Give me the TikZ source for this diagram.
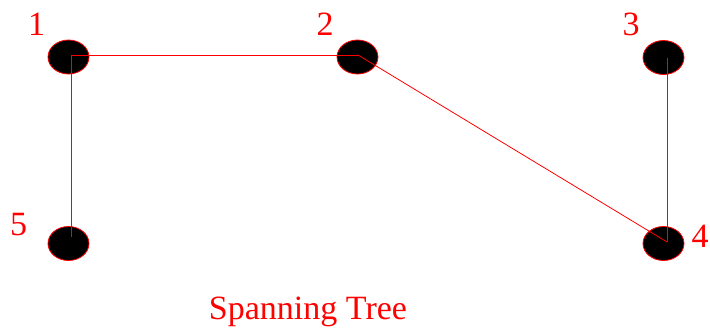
\documentclass[tikz,border=0pt]{standalone}
\usepackage{fontspec}
\setmainfont{Liberation Serif}
\usetikzlibrary{shapes.geometric}
\begin{document}
\begin{tikzpicture}[x=1pt,y=-1pt,
  vtx/.style={ellipse, draw=red, fill=black, minimum width=41pt, minimum height=34pt, inner sep=0pt, line width=0.8pt},
  lbl/.style={text=red, font=\fontsize{34}{40}\selectfont, anchor=base, inner sep=0pt},
  edge/.style={draw=red, line width=0.8pt}]
\useasboundingbox (0,0) rectangle (710,333);
\node[vtx] (n1) at (68.5,57) {};
\node[vtx] (n2) at (357.5,57) {};
\node[vtx] (n3) at (663.5,57.5) {};
\node[vtx] (n4) at (663.5,243.5) {};
\node[vtx] (n5) at (68.5,243.5) {};
\coordinate (p1) at ([shift={(3.2,-2)}]n1.center);
\coordinate (p2) at ([shift={(0.5,-2)}]n2.center);
\coordinate (p3) at ([shift={(3.5,0)}]n3.center);
\coordinate (p4) at ([shift={(3.5,-1.5)}]n4.center);
\coordinate (p5) at ([shift={(3.2,-6.5)}]n5.center);
\draw[edge] (p1) -- (p2);
\draw[edge] (p1) -- (p5);
\draw[edge] (p2) -- (p4);
\draw[edge] (p3) -- (p4);
\node[lbl] (l1) at (36.5,35) {1};
\node[lbl] (l2) at (325,35) {2};
\node[lbl] (l3) at (631,35) {3};
\node[lbl] (l4) at (700,247.5) {4};
\node[lbl] (l5) at (18.5,235) {5};
\node[lbl] (title) at (308,319) {Spanning Tree};
\end{tikzpicture}
\end{document}
